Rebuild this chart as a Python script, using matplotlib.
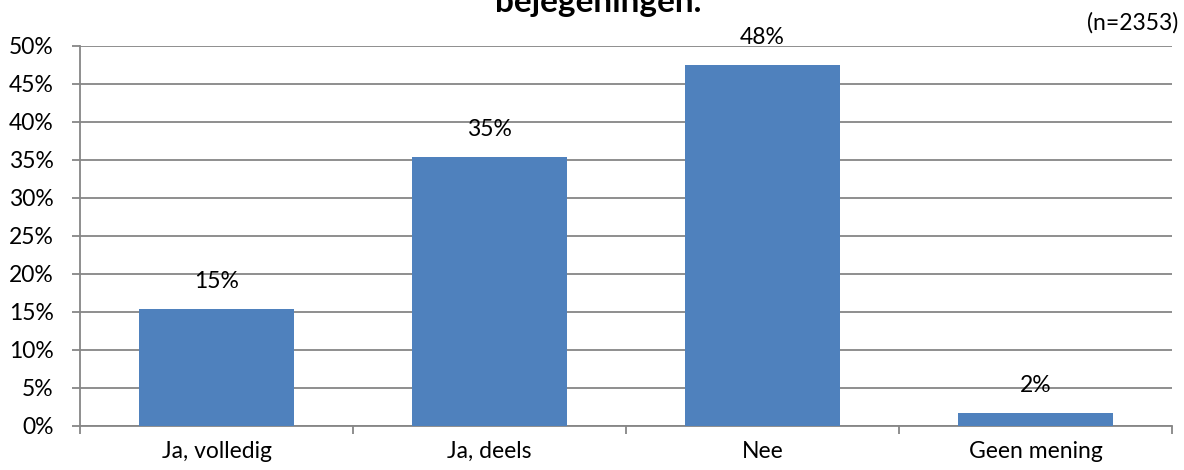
import matplotlib
matplotlib.use('Agg')
from matplotlib import pyplot as plt
import numpy as np

categories = ['Ja, volledig', 'Ja, deels', 'Nee', 'Geen mening']
values = [15.4, 35.4, 47.5, 1.7]
labels = ['15%', '35%', '48%', '2%']
yticks = [0, 5, 10, 15, 20, 25, 30, 35, 40, 45, 50]

plt.rcParams['font.family'] = ['Lato', 'DejaVu Sans']
grid_col = '#868686'
fs = 16.5

fig = plt.figure(figsize=(11.84, 4.70), dpi=100)
ax = fig.add_axes([80 / 1184, 44 / 470, (1172 - 80) / 1184, (426 - 46) / 470])

x = np.arange(len(categories))
ax.bar(x, values, width=0.57, color='#4f81bd', zorder=3)
for xi, v, lab in zip(x, values, labels):
    ax.text(xi, v + 2.2, lab, ha='center', va='bottom', fontsize=fs, color='#000000', zorder=4)

ax.set_xlim(-0.5, len(categories) - 0.5)
ax.set_ylim(0, 50)
ax.set_yticks(yticks)
ax.set_yticklabels([f'{t}%' for t in yticks], fontsize=fs)
ax.set_xticks(x)
ax.set_xticklabels(categories, fontsize=fs)
ax.set_xticks(np.arange(len(categories) + 1) - 0.5, minor=True)
ax.tick_params(axis='x', which='major', length=0, pad=11)
ax.tick_params(axis='x', which='minor', length=6, color=grid_col, width=1.3)
ax.tick_params(axis='y', length=6, color=grid_col, width=1.3, pad=13)
ax.yaxis.grid(True, color=grid_col, linewidth=1.3, zorder=0)
for s in ['top', 'right']:
    ax.spines[s].set_visible(False)
for s in ['left', 'bottom']:
    ax.spines[s].set_color(grid_col)
    ax.spines[s].set_linewidth(1.3)

fig.text(0.505, 1 - 12 / 470, 'bejegeningen.', ha='center', va='baseline',
         fontsize=24, fontweight='bold')
fig.text(1178 / 1184, 1 - 30 / 470, '(n=2353)', ha='right', va='baseline', fontsize=fs)

fig.savefig('out.png', dpi=100)
